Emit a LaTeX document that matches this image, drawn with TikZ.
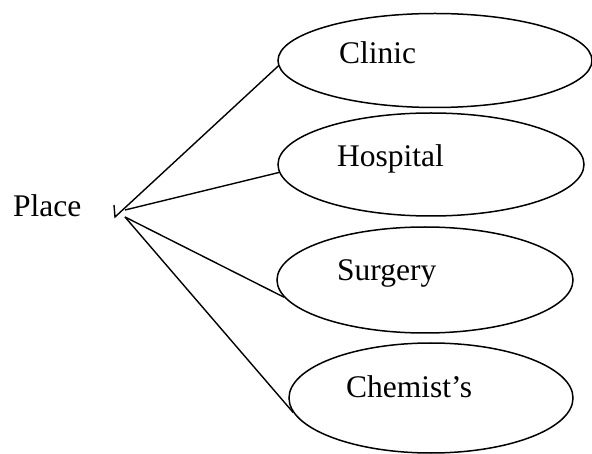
\documentclass[tikz,border=0pt]{standalone}
\usepackage{fontspec}
\setmainfont{Liberation Serif}
\usetikzlibrary{shapes.geometric}
\begin{document}
\begin{tikzpicture}[x=1pt,y=-1pt,
  oval/.style={draw,ellipse,line width=1.5pt,inner sep=0pt},
  lbl/.style={anchor=base west,inner sep=0pt,font=\fontsize{31.5}{36}\selectfont},
  link/.style={line width=1.4pt}]
\useasboundingbox (0,0) rectangle (592,454);
\node[oval,minimum width=314pt,minimum height=94pt] (clinic) at (435,60.5) {};
\node[oval,minimum width=306pt,minimum height=103pt] (hospital) at (431,164.5) {};
\node[oval,minimum width=296pt,minimum height=106pt] (surgery) at (425,280) {};
\node[oval,minimum width=284pt,minimum height=110pt] (chemist) at (431,398) {};
\node[lbl] (tclinic) at (339,64) {Clinic};
\node[lbl] (thospital) at (337,167) {Hospital};
\node[lbl] (tsurgery) at (337,281) {Surgery};
\node[lbl] (tchemist) at (346,398) {Chemist’s};
\node[lbl] (place) at (13,217) {Place};
\coordinate (tick) at (114,205);
\coordinate (hubA) at (115,217);
\coordinate (hubB) at (125,210);
\coordinate (hubC) at (125,217);
\draw[link] (tick) -- (hubA) -- (clinic.182);
\draw[link] (hubB) -- (hospital.183);
\draw[link] (hubC) -- (surgery.187);
\draw[link] (hubC) -- (chemist.186);
\end{tikzpicture}
\end{document}
